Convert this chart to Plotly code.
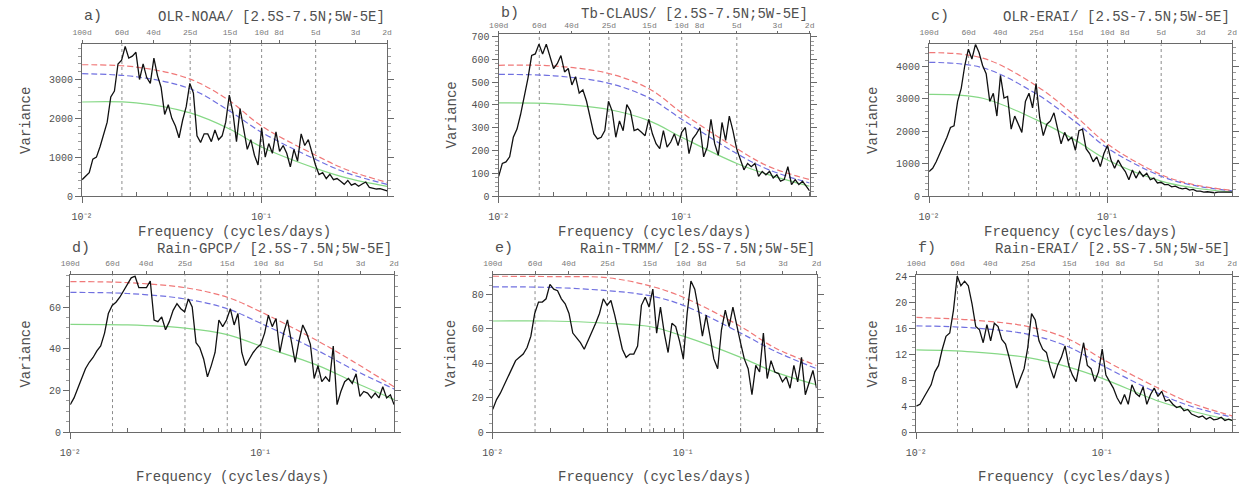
import math
import plotly.graph_objects as go

# ---------------- data ----------------
freq = [0.01000, 0.01047, 0.01096, 0.01148, 0.01202, 0.01259, 0.01318, 0.01380, 0.01445, 0.01514,
        0.01585, 0.01660, 0.01738, 0.01820, 0.01905, 0.01995, 0.02089, 0.02188, 0.02291, 0.02399,
        0.02512, 0.02630, 0.02754, 0.02884, 0.03020, 0.03162, 0.03311, 0.03467, 0.03631, 0.03802,
        0.03981, 0.04169, 0.04365, 0.04571, 0.04786, 0.05012, 0.05248, 0.05495, 0.05754, 0.06026,
        0.06310, 0.06607, 0.06918, 0.07244, 0.07586, 0.07943, 0.08318, 0.08710, 0.09120, 0.09550,
        0.1000, 0.1047, 0.1096, 0.1148, 0.1202, 0.1259, 0.1318, 0.1380, 0.1445, 0.1514,
        0.1585, 0.1660, 0.1738, 0.1820, 0.1905, 0.1995, 0.2089, 0.2188, 0.2291, 0.2399,
        0.2512, 0.2630, 0.2754, 0.2884, 0.3020, 0.3162, 0.3311, 0.3467, 0.3631, 0.3802,
        0.3981, 0.4169, 0.4365, 0.4571, 0.4786, 0.5000]

var_a = [420, 500, 600, 950, 1000, 1270, 1600, 1900, 2550, 2700,
         3400, 3500, 3850, 3550, 3600, 3700, 3000, 3400, 3050, 2900,
         3550, 3100, 2800, 2100, 2350, 2000, 1800, 1500, 1950, 2300,
         2900, 2650, 1550, 1380, 1600, 1600, 1400, 1700, 1450, 1550,
         1900, 2600, 2150, 1400, 2250, 1700, 1200, 1450, 1050, 800,
         1750, 1000, 1350, 1100, 1650, 1150, 1300, 1100, 750, 1200,
         900, 1600, 1300, 1450, 1100, 800, 550, 600, 450, 560,
         420, 450, 380, 300, 400, 280, 320, 250, 310, 360,
         220, 200, 180, 190, 150, 130]

var_b = [86, 143, 150, 172, 258, 294, 359, 438, 517, 617,
         624, 667, 624, 667, 617, 560, 581, 617, 545, 560,
         488, 524, 452, 466, 416, 344, 273, 251, 258, 287,
         416, 373, 258, 330, 287, 402, 373, 287, 294, 280,
         265, 337, 273, 230, 208, 287, 215, 237, 273, 222,
         280, 301, 186, 251, 273, 301, 172, 215, 337, 230,
         179, 323, 244, 351, 287, 208, 158, 115, 143, 129,
         143, 86, 108, 93, 108, 79, 93, 65, 72, 129,
         50, 72, 50, 65, 43, 22]

var_c = [756, 856, 1058, 1310, 1511, 1814, 2116, 2166, 2922, 3325,
         4030, 4534, 4232, 4685, 4433, 4030, 3778, 2922, 3174, 2469,
         3728, 3023, 3073, 2065, 2469, 2217, 1965, 2922, 3174, 2720,
         3476, 2418, 1864, 2217, 2317, 2569, 2116, 1612, 1965, 1713,
         1814, 1411, 2015, 2065, 1461, 1310, 1058, 1209, 907, 1310,
         1562, 1108, 856, 1108, 907, 756, 504, 806, 554, 756,
         605, 705, 504, 554, 403, 423, 353, 353, 282, 302,
         252, 222, 242, 181, 202, 151, 151, 121, 131, 121,
         101, 121, 111, 121, 121, 121]

var_d = [13.2, 16.4, 21.0, 25.7, 30.4, 33.5, 35.8, 39.0, 41.3, 47.5,
         56.9, 60.8, 62.3, 64.7, 67.8, 70.9, 74.0, 74.8, 69.3, 69.3,
         69.3, 72.5, 53.8, 53.0, 55.3, 49.1, 53.0, 58.4, 61.6, 59.2,
         57.7, 63.9, 60.0, 42.9, 40.5, 35.1, 26.5, 31.9, 38.2, 53.8,
         50.6, 53.8, 59.2, 51.4, 56.9, 38.2, 31.9, 35.1, 38.2, 40.5,
         42.1, 47.5, 56.1, 50.6, 54.5, 38.2, 47.5, 53.8, 42.9, 33.5,
         43.6, 51.4, 47.5, 42.1, 25.7, 31.9, 24.2, 26.5, 24.2, 41.3,
         13.2, 19.5, 24.2, 25.7, 23.4, 28.0, 17.1, 19.5, 18.7, 16.4,
         18.7, 16.4, 21.8, 16.4, 17.9, 13.2]

var_e = [13.2, 18.9, 22.6, 27.4, 32.1, 36.8, 41.5, 43.4, 45.3, 49.1,
         55.7, 68.9, 75.5, 75.5, 77.4, 85.8, 83.0, 82.1, 77.4, 74.5,
         68.9, 57.5, 54.7, 51.9, 48.1, 52.8, 58.5, 63.2, 68.9, 77.4,
         73.6, 76.4, 67.9, 57.5, 48.1, 43.4, 45.3, 45.3, 50.0, 73.6,
         78.3, 72.6, 83.0, 57.5, 72.6, 57.5, 46.2, 63.2, 61.3, 52.8,
         42.5, 68.9, 87.7, 83.0, 70.8, 55.7, 67.9, 55.7, 42.5, 36.8,
         59.4, 70.8, 61.3, 72.6, 61.3, 51.9, 42.5, 36.8, 21.7, 38.7,
         34.9, 57.5, 31.1, 41.5, 34.9, 34.0, 29.2, 32.1, 25.5, 38.7,
         29.2, 43.4, 21.7, 29.2, 35.8, 25.5]

var_f = [4.0, 4.3, 5.3, 6.3, 7.3, 9.3, 10.3, 12.8, 14.8, 15.3,
         18.8, 24.1, 22.6, 23.3, 22.6, 19.8, 16.3, 15.8, 13.8, 16.6,
         14.1, 16.8, 16.3, 14.3, 13.6, 11.5, 9.3, 6.8, 8.3, 9.8,
         13.1, 18.3, 17.3, 14.1, 12.8, 12.3, 10.0, 8.3, 10.3, 11.5,
         13.3, 10.3, 8.8, 7.8, 10.8, 13.8, 10.3, 9.8, 7.8, 9.3,
         12.8, 8.8, 7.8, 6.8, 5.3, 4.3, 5.8, 4.3, 7.3, 6.0,
         5.5, 7.0, 4.3, 5.8, 6.8, 5.5, 6.3, 4.8, 5.0, 4.3,
         3.8, 4.0, 3.3, 3.5, 2.8, 2.5, 2.3, 2.5, 2.0, 2.3,
         1.9, 2.0, 2.3, 1.8, 2.0, 1.8]

smooth_freq = [0.01, 0.02, 0.04, 0.0667, 0.1, 0.2, 0.3, 0.5]
red_a = [3380, 3320, 3010, 2440, 1800, 1050, 670, 350]
blue_a = [3150, 3070, 2760, 2180, 1640, 940, 590, 300]
green_a = [2420, 2400, 2140, 1720, 1260, 710, 460, 250]
red_b = [574, 571, 538, 470, 366, 208, 129, 72]
blue_b = [534, 528, 495, 430, 337, 186, 115, 57]
green_b = [409, 405, 380, 330, 258, 143, 93, 43]
red_c = [4430, 4260, 3400, 2450, 1600, 660, 360, 170]
blue_c = [4130, 3960, 3150, 2270, 1480, 610, 335, 158]
green_c = [3140, 3020, 2350, 1710, 1110, 460, 255, 121]
red_d = [72.2, 71.7, 69.3, 64.7, 57.7, 43.6, 34.3, 21.8]
blue_d = [67.0, 66.5, 63.9, 59.2, 52.2, 39.0, 30.4, 20.7]
green_d = [51.7, 51.4, 49.9, 46.8, 41.3, 31.9, 24.5, 15.6]
red_e = [90.5, 90.3, 89.6, 84.9, 78.3, 61.3, 49.1, 38.7]
blue_e = [84.3, 84.0, 82.1, 79.2, 73.6, 57.5, 47.2, 36.8]
green_e = [64.5, 64.5, 63.2, 61.3, 55.7, 43.4, 35.0, 27.5]
red_f = [17.7, 17.3, 16.3, 14.3, 11.3, 6.8, 4.5, 2.5]
blue_f = [16.4, 16.1, 15.1, 13.1, 10.3, 6.0, 4.0, 2.3]
green_f = [12.7, 12.4, 11.5, 10.0, 8.3, 4.8, 3.3, 1.8]

panel_labels = ["a)", "b)", "c)", "d)", "e)", "f)"]
panel_titles = ["OLR-NOAA/ [2.5S-7.5N;5W-5E]", "Tb-CLAUS/ [2.5S-7.5N;5W-5E]",
                "OLR-ERAI/ [2.5S-7.5N;5W-5E]", "Rain-GPCP/ [2.5S-7.5N;5W-5E]",
                "Rain-TRMM/ [2.5S-7.5N;5W-5E]", "Rain-ERAI/ [2.5S-7.5N;5W-5E]"]
y_max = [3910, 710, 4690, 75.2, 91, 24.2]
y_dtick = [1000, 100, 1000, 20, 20, 4]
y_minor = [200, 20, 200, 5, 5, 1]
marker_periods = [60, 25, 15, 10, 5]
top_periods = [100, 60, 40, 25, 15, 10, 8, 5, 3, 2]
bottom_ticks = [0.01, 0.1]
bottom_ticktext = ["10\u207b\u00b2", "10\u207b\u00b9"]
minor_ticks = [0.02, 0.03, 0.04, 0.05, 0.06, 0.07, 0.08, 0.09, 0.2, 0.3, 0.4, 0.5]

spectra = [var_a, var_b, var_c, var_d, var_e, var_f]
reds = [red_a, red_b, red_c, red_d, red_e, red_f]
blues = [blue_a, blue_b, blue_c, blue_d, blue_e, blue_f]
greens = [green_a, green_b, green_c, green_d, green_e, green_f]

# ---------------- layout geometry (pixels) ----------------
W, H = 1250, 493
boxes = [(72, 381, 42, 197), (494, 809, 32, 197), (930, 1237, 42, 197),
         (60, 388, 278, 438), (488, 816, 278, 438), (917, 1237, 278, 438)]
title_y = [14, 11, 14, 251, 251, 251]
xtitle_y = [234, 234, 234, 484, 484, 484]
ytitle_x = [15, 447, 873, 15, 445, 873]
top_len = [3, 2, 3, 3, 3, 3]
top_standoff = [2, 0, 2, 2, 2, 2]

FONT = "Liberation Mono"
TXT = "#505050"
AX = "#6a6a6a"
xr = [-2, math.log10(0.5)]

fig = go.Figure()
layout = dict(width=W, height=H, margin=dict(l=0, r=0, t=0, b=0),
              paper_bgcolor="white", plot_bgcolor="white", showlegend=False,
              font=dict(family=FONT, color=TXT, size=10))
annotations = []

for i in range(6):
    n = i + 1
    xa = "x" if n == 1 else f"x{n}"
    ya = "y" if n == 1 else f"y{n}"
    xtop = f"x{n + 6}"
    x0, x1, t, b = boxes[i]

    vx, vy = [], []
    for p in marker_periods:
        vx += [1 / p, 1 / p, None]
        vy += [0, y_max[i], None]
    fig.add_trace(go.Scatter(x=vx, y=vy, mode="lines", xaxis=xa, yaxis=ya,
                             line=dict(color="#8c8c8c", width=1, dash="dot"),
                             hoverinfo="skip"))
    fig.add_trace(go.Scatter(x=smooth_freq, y=greens[i], mode="lines", xaxis=xa, yaxis=ya,
                             line=dict(color="#86d886", width=1.2, shape="spline")))
    fig.add_trace(go.Scatter(x=smooth_freq, y=blues[i], mode="lines", xaxis=xa, yaxis=ya,
                             line=dict(color="#7070e0", width=1.2, dash="6px,3px", shape="spline")))
    fig.add_trace(go.Scatter(x=smooth_freq, y=reds[i], mode="lines", xaxis=xa, yaxis=ya,
                             line=dict(color="#f07878", width=1.2, dash="6px,3px", shape="spline")))
    fig.add_trace(go.Scatter(x=freq, y=spectra[i], mode="lines", xaxis=xa, yaxis=ya,
                             line=dict(color="#111111", width=1.3)))
    fig.add_trace(go.Scatter(x=[0.01, 0.5], y=[None, None], mode="lines", xaxis=xtop, yaxis=ya,
                             hoverinfo="skip"))

    dom_x = [x0 / W, x1 / W]
    dom_y = [1 - b / H, 1 - t / H]
    layout["xaxis" if n == 1 else f"xaxis{n}"] = dict(
        type="log", range=xr, domain=dom_x, anchor=ya,
        tickmode="array", tickvals=bottom_ticks, ticktext=bottom_ticktext,
        ticks="outside", ticklen=6, tickcolor=AX, ticklabelstandoff=5,
        tickfont=dict(size=10, color=TXT, family=FONT),
        showline=True, linecolor=AX, linewidth=1.2, mirror=True,
        showgrid=False, zeroline=False,
        minor=dict(tickmode="array", tickvals=minor_ticks, ticks="inside", ticklen=4, tickcolor=AX))
    layout[f"xaxis{n + 6}"] = dict(
        type="log", range=xr, overlaying=xa, side="top", anchor=ya,
        tickmode="array", tickvals=[1 / p for p in top_periods],
        ticktext=[f"{p}d" for p in top_periods],
        ticks="outside", ticklen=top_len[i], tickcolor=AX, ticklabelstandoff=top_standoff[i],
        tickfont=dict(size=8, color="#777777", family=FONT),
        showgrid=False, zeroline=False, showline=False)
    layout["yaxis" if n == 1 else f"yaxis{n}"] = dict(
        range=[0, y_max[i]], domain=dom_y, anchor=xa,
        tickmode="linear", tick0=0, dtick=y_dtick[i],
        ticks="outside", ticklen=6, tickcolor=AX,
        tickfont=dict(size=10, color=TXT, family=FONT),
        showline=True, linecolor=AX, linewidth=1.2, mirror="ticks",
        showgrid=False, zeroline=False,
        minor=dict(dtick=y_minor[i], ticks="outside", ticklen=3, tickcolor="#9a9a9a"))

    annotations.append(dict(xref="paper", yref="paper", x=x0 / W, y=1 - title_y[i] / H,
                            xanchor="left", yanchor="middle", showarrow=False,
                            text=panel_labels[i], font=dict(size=15, color=TXT, family=FONT)))
    annotations.append(dict(xref="paper", yref="paper", x=x1 / W, y=1 - title_y[i] / H,
                            xanchor="right", yanchor="middle", showarrow=False,
                            text=panel_titles[i], font=dict(size=14, color=TXT, family=FONT)))
    annotations.append(dict(xref="paper", yref="paper", x=(x0 + x1) / 2 / W, y=1 - xtitle_y[i] / H,
                            xanchor="center", yanchor="middle", showarrow=False,
                            text="Frequency (cycles/days)", font=dict(size=14, color=TXT, family=FONT)))
    annotations.append(dict(xref="paper", yref="paper", x=ytitle_x[i] / W, y=1 - (t + b) / 2 / H,
                            xanchor="center", yanchor="middle", showarrow=False, textangle=-90,
                            text="Variance", font=dict(size=14, color=TXT, family=FONT)))

layout["annotations"] = annotations
fig.update_layout(**layout)
fig.write_html("out.html")
